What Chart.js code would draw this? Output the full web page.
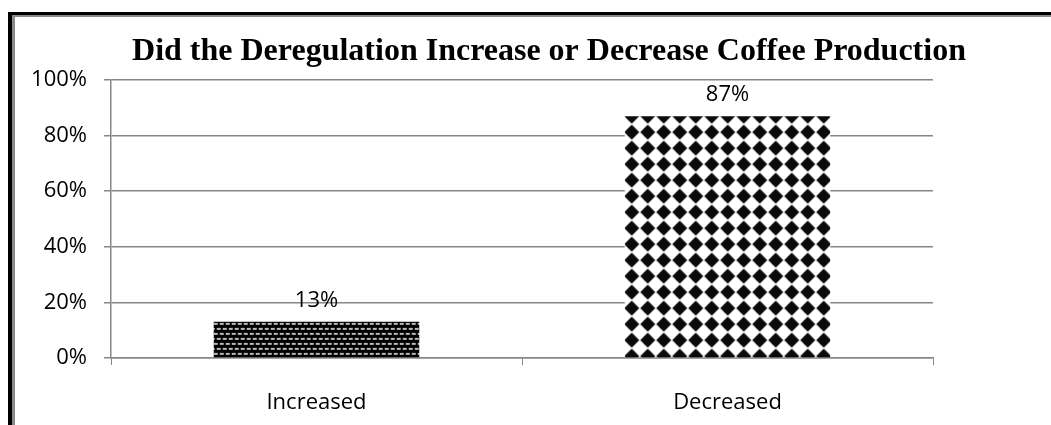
<!DOCTYPE html>
<html>
<head>
<meta charset="utf-8">
<script src="https://cdn.jsdelivr.net/npm/chart.js@4/dist/chart.umd.min.js"></script>
<style>
    html, body { margin: 0; padding: 0; background: #fff; }
    #wrap { position: relative; width: 1051px; height: 425px; }
</style>
</head>
<body>
<div id="wrap"><canvas id="coffeeChart"></canvas></div>
<script>
// Survey answers and the share of respondents for each
const categories = ['Increased', 'Decreased'];
const shares = [13, 87];
const yTicks = [0, 20, 40, 60, 80, 100];
const chartTitle = 'Did the Deregulation Increase or Decrease Coffee Production';

const labelFont = '22px "Open Sans", sans-serif';
const axisGray = '#868686';

// Dense black weave used on the first bar
function makeWeavePattern(ctx) {
    const tile = document.createElement('canvas');
    tile.width = 6;
    tile.height = 10;
    const t = tile.getContext('2d');
    t.fillStyle = '#000';
    t.fillRect(0, 0, 6, 10);
    t.fillStyle = '#b8b8b8';
    t.fillRect(0, 1, 4, 2);
    t.fillRect(3, 6, 3, 2);
    t.fillRect(0, 6, 1, 2);
    return ctx.createPattern(tile, 'repeat');
}

// Black diamonds on white for the second bar
function makeDiamondPattern(ctx) {
    const tile = document.createElement('canvas');
    tile.width = 16;
    tile.height = 16;
    const t = tile.getContext('2d');
    t.fillStyle = '#fff';
    t.fillRect(0, 0, 16, 16);
    t.fillStyle = '#0a0a0a';
    t.beginPath();
    t.moveTo(8, 0.5);
    t.quadraticCurveTo(11.8, 4.2, 15.5, 8);
    t.quadraticCurveTo(11.8, 11.8, 8, 15.5);
    t.quadraticCurveTo(4.2, 11.8, 0.5, 8);
    t.quadraticCurveTo(4.2, 4.2, 8, 0.5);
    t.fill();
    return ctx.createPattern(tile, 'repeat');
}

const canvas = document.getElementById('coffeeChart');
const patterns = [makeWeavePattern(canvas.getContext('2d')), makeDiamondPattern(canvas.getContext('2d'))];

// Anchor each pattern to its own bar so the tiling starts at the bar edges
const patternAnchor = {
    id: 'patternAnchor',
    beforeDatasetsDraw(chart) {
        const meta = chart.getDatasetMeta(0);
        meta.data.forEach((bar, i) => {
            const left = bar.x - bar.width / 2;
            if (i === 1) {
                patterns[i].setTransform(new DOMMatrix().translate(left - 1, bar.y - 8));
            } else {
                patterns[i].setTransform(new DOMMatrix().translate(left, bar.y));
            }
        });
    }
};

// Frame around the chart (heavy black edge with a gray inner line)
const frame = {
    id: 'frame',
    beforeDraw(chart) {
        const ctx = chart.ctx;
        ctx.save();
        ctx.fillStyle = '#fff';
        ctx.fillRect(0, 0, chart.width, chart.height);
        ctx.fillStyle = '#000';
        ctx.fillRect(8, 12, chart.width - 8, 3);
        ctx.fillRect(8, 12, 4, chart.height - 12);
        ctx.fillStyle = '#8a8a8a';
        ctx.fillRect(12, 15, chart.width - 12, 2);
        ctx.fillRect(12, 15, 3, chart.height - 15);
        ctx.restore();
    }
};

// Bold serif title across the top
const titleText = {
    id: 'titleText',
    afterDraw(chart) {
        const ctx = chart.ctx;
        ctx.save();
        ctx.font = 'bold 32px "Liberation Serif", "Times New Roman", serif';
        ctx.fillStyle = '#000';
        ctx.textAlign = 'center';
        ctx.textBaseline = 'alphabetic';
        ctx.fillText(chartTitle, 549, 60);
        ctx.restore();
    }
};

// Percentage above each bar
const valueLabels = {
    id: 'valueLabels',
    afterDatasetsDraw(chart) {
        const ctx = chart.ctx;
        const meta = chart.getDatasetMeta(0);
        ctx.save();
        ctx.font = labelFont;
        ctx.fillStyle = '#000';
        ctx.textAlign = 'center';
        ctx.textBaseline = 'alphabetic';
        meta.data.forEach((bar, i) => {
            ctx.fillText(shares[i] + '%', bar.x, bar.y - 15);
        });
        ctx.restore();
    }
};

new Chart(canvas, {
    type: 'bar',
    data: {
        labels: categories,
        datasets: [{
            data: shares,
            backgroundColor: (c) => patterns[c.dataIndex],
            borderWidth: 0,
            categoryPercentage: 1,
            barPercentage: 0.5
        }]
    },
    options: {
        responsive: true,
        maintainAspectRatio: false,
        animation: false,
        devicePixelRatio: 1,
        layout: {
            padding: { left: 0, right: 118, top: 80, bottom: 0 }
        },
        plugins: {
            legend: { display: false },
            title: { display: false },
            tooltip: { enabled: false }
        },
        scales: {
            x: {
                afterFit(scale) { scale.height = 67; },
                grid: {
                    drawOnChartArea: false,
                    color: axisGray,
                    tickLength: 7,
                    offset: true
                },
                border: { color: axisGray, width: 1.5 },
                ticks: {
                    color: '#000',
                    font: { family: '"Open Sans", sans-serif', size: 22 },
                    padding: 25
                }
            },
            y: {
                min: 0,
                max: 100,
                afterFit(scale) { scale.width = 111; },
                afterBuildTicks(scale) {
                    scale.ticks = yTicks.map(v => ({ value: v }));
                },
                grid: {
                    color: axisGray,
                    lineWidth: 1.5,
                    tickLength: 7
                },
                border: { color: axisGray, width: 1.5 },
                ticks: {
                    color: '#000',
                    font: { family: '"Open Sans", sans-serif', size: 22 },
                    padding: 17,
                    callback: (v) => v + '%'
                }
            }
        }
    },
    plugins: [frame, patternAnchor, valueLabels, titleText]
});
</script>
</body>
</html>
